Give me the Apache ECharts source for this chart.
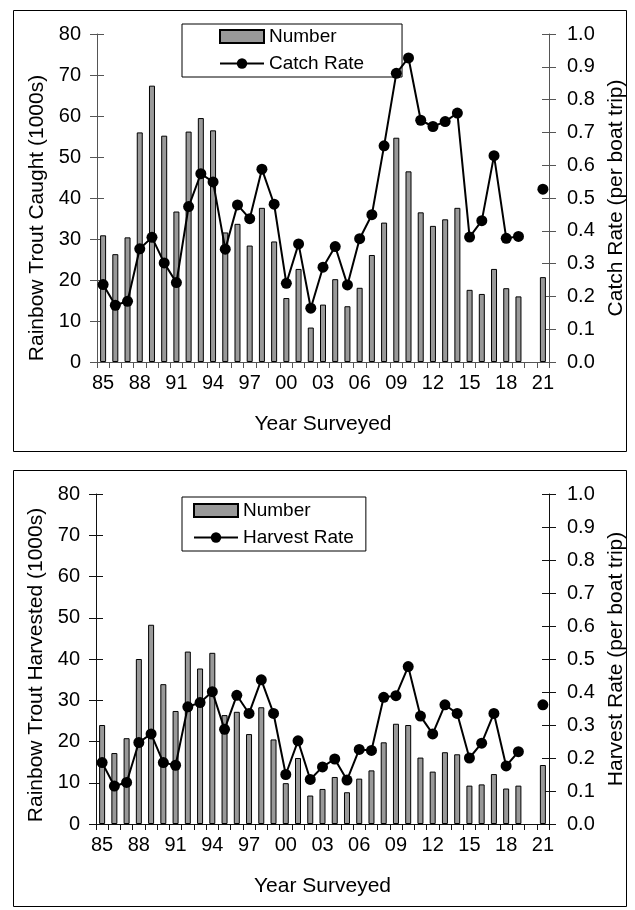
<!DOCTYPE html>
<html>
<head>
<meta charset="utf-8">
<script src="https://cdn.jsdelivr.net/npm/echarts@6/dist/echarts.min.js"></script>
<style>
  html, body { margin: 0; padding: 0; background: #fff; }
  #chart { width: 635px; height: 910px; }
</style>
</head>
<body>
<div id="chart"></div>
<script>
// Survey years (two-digit labels), 1985 through 2021; no survey in 2020
const years = ['85','86','87','88','89','90','91','92','93','94','95','96','97','98','99',
  '00','01','02','03','04','05','06','07','08','09','10','11','12','13','14','15','16',
  '17','18','19','20','21'];

// Rainbow trout caught (1000s)
const caught = [30.9, 26.3, 30.4, 56.0, 67.4, 55.2, 36.7, 56.2, 59.5, 56.5, 31.6, 33.7,
  28.4, 37.6, 29.4, 15.6, 22.7, 8.4, 14.0, 20.2, 13.6, 18.1, 26.1, 34.0, 54.7, 46.5,
  36.5, 33.2, 34.8, 37.6, 17.6, 16.6, 22.7, 18.0, 16.0, null, 20.7];

// Catch rate (per boat trip)
const catchRate = [0.236, 0.173, 0.185, 0.345, 0.380, 0.302, 0.242, 0.474, 0.574, 0.549,
  0.344, 0.479, 0.437, 0.588, 0.481, 0.240, 0.360, 0.164, 0.289, 0.352, 0.235, 0.376,
  0.449, 0.659, 0.880, 0.927, 0.737, 0.718, 0.733, 0.759, 0.381, 0.431, 0.629, 0.377,
  0.383, null, 0.527];

// Rainbow trout harvested (1000s)
const harvested = [24.0, 17.2, 20.8, 40.0, 48.3, 33.9, 27.4, 41.8, 37.7, 41.5, 26.4, 27.2,
  21.8, 28.3, 20.5, 9.9, 16.0, 6.9, 8.5, 11.4, 7.7, 11.0, 13.0, 19.8, 24.3, 24.0, 16.1,
  12.7, 17.4, 16.9, 9.3, 9.6, 12.1, 8.6, 9.3, null, 14.3];

// Harvest rate (per boat trip)
const harvestRate = [0.186, 0.115, 0.126, 0.247, 0.273, 0.186, 0.178, 0.355, 0.368, 0.401,
  0.287, 0.390, 0.335, 0.437, 0.335, 0.150, 0.252, 0.135, 0.173, 0.197, 0.133, 0.226,
  0.223, 0.384, 0.389, 0.477, 0.327, 0.273, 0.361, 0.335, 0.200, 0.245, 0.335, 0.176,
  0.219, null, 0.361];

const FONT = "'Liberation Sans', Arial, sans-serif";
const tickTxt = { color: '#000', fontFamily: FONT, fontSize: 20 };
const titleTxt = { color: '#000', fontFamily: FONT, fontSize: 21 };
const legendTxt = { color: '#000', fontFamily: FONT, fontSize: 19 };

function xAxisFor(grid, axisColor) {
  return {
    type: 'category', gridIndex: grid, data: years, boundaryGap: true,
    name: 'Year Surveyed', nameLocation: 'middle', nameGap: 52, nameTextStyle: titleTxt,
    axisLine: { show: true, lineStyle: { color: axisColor, width: 1 } },
    axisTick: { show: true, interval: 0, length: 6, lineStyle: { color: axisColor } },
    axisLabel: Object.assign({ interval: 2, margin: 11 }, tickTxt),
    splitLine: { show: false }
  };
}

function countAxis(grid, name, namePad, axisColor) {
  return {
    type: 'value', gridIndex: grid, position: 'left', min: 0, max: 80, interval: 10,
    name: name, nameLocation: 'middle', nameRotate: 90, nameGap: 45,
    nameTextStyle: Object.assign({ padding: namePad }, titleTxt),
    axisLine: { show: true, lineStyle: { color: axisColor, width: 1 } },
    axisTick: { show: true, length: 7, lineStyle: { color: axisColor } },
    axisLabel: Object.assign({ margin: 16 }, tickTxt),
    splitLine: { show: false }
  };
}

function rateAxis(grid, name, axisColor) {
  return {
    type: 'value', gridIndex: grid, position: 'right', min: 0, max: 1, interval: 0.1,
    name: name, nameLocation: 'middle', nameRotate: 90, nameGap: 57, nameTextStyle: titleTxt,
    axisLine: { show: true, lineStyle: { color: axisColor, width: 1 } },
    axisTick: { show: true, length: 7, lineStyle: { color: axisColor } },
    axisLabel: Object.assign({ margin: 18, formatter: v => v.toFixed(1) }, tickTxt),
    splitLine: { show: false }
  };
}

// Mirror axes that only draw inward ticks, giving "cross" tick marks
function innerTicks(grid, pos, max, interval, axisColor) {
  return {
    type: 'value', gridIndex: grid, position: pos, min: 0, max: max, interval: interval,
    axisLine: { show: false },
    axisTick: { show: true, inside: true, length: 7, lineStyle: { color: axisColor } },
    axisLabel: { show: false },
    splitLine: { show: false }
  };
}

const barStyle = { color: '#999999', borderColor: '#000', borderWidth: 1 };

function lineSeries(name, xi, yi, data) {
  return {
    type: 'line', name: name, xAxisIndex: xi, yAxisIndex: yi, data: data, z: 5,
    symbol: 'circle', symbolSize: 11, showAllSymbol: true, connectNulls: false,
    itemStyle: { color: '#000' }, lineStyle: { color: '#000', width: 2 }
  };
}

// Legend box sits beneath the rate line so markers near it stay visible
function legendFor(lineName, left, top, pad) {
  return {
    data: [{ name: 'Number', icon: 'rect' }, lineName],
    orient: 'vertical', left: left, top: top, padding: pad, z: 1,
    itemGap: 8, itemWidth: 44, itemHeight: 13,
    backgroundColor: '#fff', borderColor: '#000', borderWidth: 1, borderRadius: 0,
    textStyle: legendTxt, selectedMode: false
  };
}

const TOP_AXIS = '#555';
const BOT_AXIS = '#111';

const option = {
  animation: false,
  backgroundColor: '#fff',
  grid: [
    { left: 97, right: 82, top: 34, height: 328 },
    { left: 96, right: 85, top: 494, height: 330 }
  ],
  xAxis: [xAxisFor(0, TOP_AXIS), xAxisFor(1, BOT_AXIS)],
  yAxis: [
    countAxis(0, 'Rainbow Trout Caught (1000s)', [0, 40, 0, 0], TOP_AXIS),
    rateAxis(0, 'Catch Rate (per boat trip)', TOP_AXIS),
    innerTicks(0, 'left', 80, 10, TOP_AXIS),
    innerTicks(0, 'right', 1, 0.1, TOP_AXIS),
    countAxis(1, 'Rainbow Trout Harvested (1000s)', [0, 12, 0, 0], BOT_AXIS),
    rateAxis(1, 'Harvest Rate (per boat trip)', BOT_AXIS),
    innerTicks(1, 'left', 80, 10, BOT_AXIS),
    innerTicks(1, 'right', 1, 0.1, BOT_AXIS)
  ],
  legend: [
    legendFor('Catch Rate', 182, 24, [3, 38, 4, 37]),
    legendFor('Harvest Rate', 182, 497, [4, 12, 4, 11])
  ],
  graphic: [
    { type: 'rect', shape: { x: 13.5, y: 10.5, width: 613, height: 441 },
      style: { fill: 'none', stroke: '#000', lineWidth: 1 }, silent: true },
    { type: 'rect', shape: { x: 13.5, y: 470.5, width: 613, height: 436 },
      style: { fill: 'none', stroke: '#000', lineWidth: 1 }, silent: true }
  ],
  series: [
    { type: 'bar', name: 'Number', xAxisIndex: 0, yAxisIndex: 0, data: caught,
      barWidth: 6, itemStyle: barStyle },
    lineSeries('Catch Rate', 0, 1, catchRate),
    { type: 'bar', name: 'Number', xAxisIndex: 1, yAxisIndex: 4, data: harvested,
      barWidth: 6, itemStyle: barStyle },
    lineSeries('Harvest Rate', 1, 5, harvestRate)
  ]
};

const chart = echarts.init(document.getElementById('chart'), null, { renderer: 'canvas' });
chart.setOption(option);
</script>
</body>
</html>
